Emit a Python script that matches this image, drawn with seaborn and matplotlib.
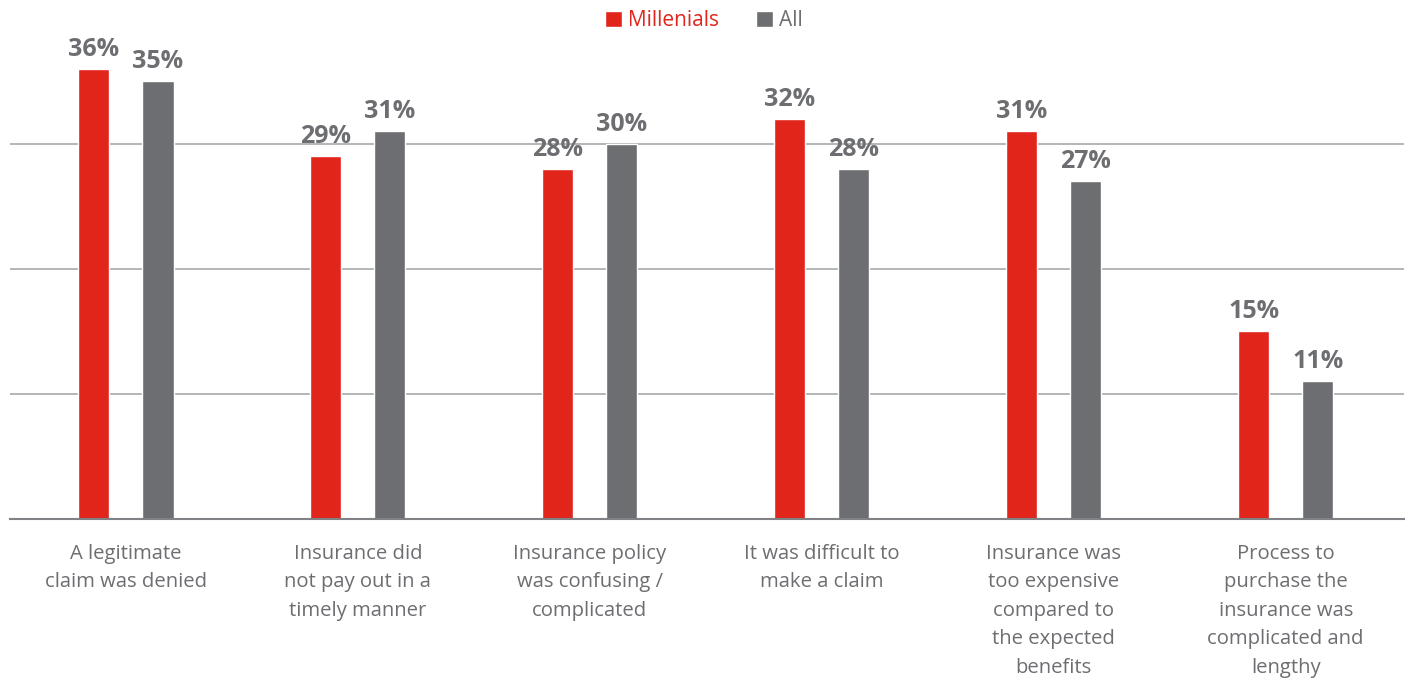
import matplotlib
matplotlib.use("Agg")
import matplotlib.pyplot as plt
import seaborn as sns
import pandas as pd
from matplotlib.patches import Patch

categories = [
    "A legitimate\nclaim was denied",
    "Insurance did\nnot pay out in a\ntimely manner",
    "Insurance policy\nwas confusing /\ncomplicated",
    "It was difficult to\nmake a claim",
    "Insurance was\ntoo expensive\ncompared to\nthe expected\nbenefits",
    "Process to\npurchase the\ninsurance was\ncomplicated and\nlengthy",
]
millenials = [36, 29, 28, 32, 31, 15]
all_resp = [35, 31, 30, 28, 27, 11]
series = ["Millenials", "All"]

RED = "#E1251B"
GRAY = "#6D6E71"

sns.set_theme(style="white")
plt.rcParams["font.family"] = ["Open Sans", "DejaVu Sans"]

df = pd.DataFrame({
    "category": categories * 2,
    "value": millenials + all_resp,
    "series": [series[0]] * len(categories) + [series[1]] * len(categories),
})

fig = plt.figure(figsize=(14.08, 6.82), dpi=100)
ax = fig.add_axes([10 / 1408, 1 - 519 / 682, 1394 / 1408, (519 - 35) / 682])

sns.barplot(data=df, x="category", y="value", hue="series", order=categories,
            hue_order=series, palette=[RED, GRAY], width=0.552, gap=0.515,
            saturation=1, ax=ax, legend=False)

ax.set_ylim(0, 38.7)
ax.set_xlim(-0.5, len(categories) - 0.5 + 0.01)
ax.set_yticks([10, 20, 30])
ax.yaxis.grid(True, color="#A7A9AC", linewidth=1.2)
ax.set_axisbelow(True)
ax.tick_params(axis="y", left=False, labelleft=False)
ax.tick_params(axis="x", bottom=False, pad=12, labelsize=14.6, labelcolor=GRAY)
for lab in ax.get_xticklabels():
    lab.set_linespacing(1.56)
    lab.set_verticalalignment("top")
ax.set_xlabel("")
ax.set_ylabel("")
for s in ["top", "right", "left"]:
    ax.spines[s].set_visible(False)
ax.spines["bottom"].set_color("#808285")
ax.spines["bottom"].set_linewidth(1.5)

for cont in ax.containers:
    ax.bar_label(cont, labels=[f"{int(v)}%" for v in cont.datavalues],
                 padding=5, fontsize=18, fontweight="bold", color=GRAY)

handles = [Patch(facecolor=RED), Patch(facecolor=GRAY)]
leg = fig.legend(handles, series, loc="center", bbox_to_anchor=(0.5, 1 - 21 / 682),
                 ncol=2, frameon=False, fontsize=15, handlelength=0.8,
                 handleheight=0.8, handletextpad=0.3, columnspacing=1.8)
for t, c in zip(leg.get_texts(), [RED, GRAY]):
    t.set_color(c)

fig.savefig("out.png", dpi=100)
